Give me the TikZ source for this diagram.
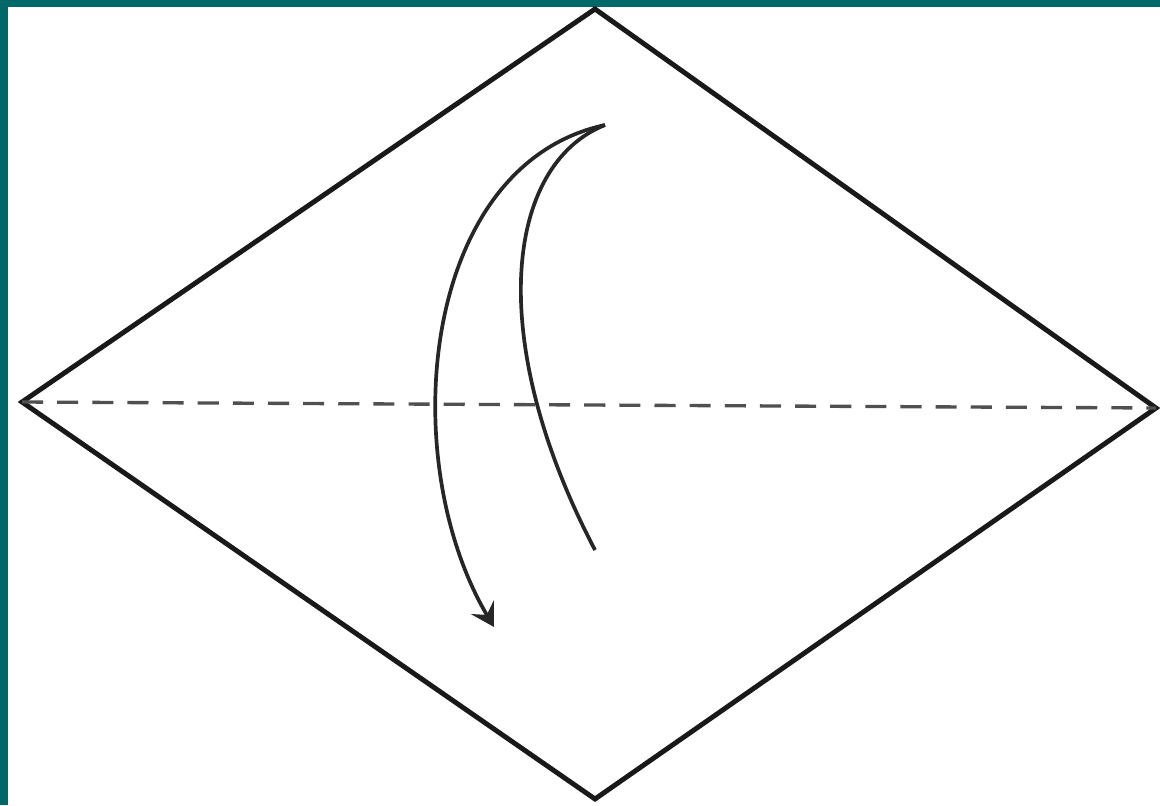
\documentclass[tikz,border=0pt]{standalone}
\usepackage{tikz}
\usetikzlibrary{arrows.meta}
\definecolor{frame}{RGB}{0,104,104}
\definecolor{creaseline}{RGB}{80,80,80}

\begin{document}
\begin{tikzpicture}[
  x=0.02cm, y=-0.02cm,
  edge/.style={line width=2.8pt, line join=miter, black!90},
  crease/.style={line width=1.9pt, creaseline, dash pattern=on 12pt off 8pt},
  fold/.style={line width=2.1pt, black!85},
  a/.style={-{Stealth[length=13pt, width=15pt, inset=5pt]}, fold}
]

% ---- page and frame ----
\fill[white] (0,0) rectangle (1160,805);
\fill[frame] (0,0) rectangle (8,805);
\fill[frame] (0,0) rectangle (1160,7);
\useasboundingbox (0,0) rectangle (1160,805);

% ---- corners of the square ----
\coordinate (top) at (595,9);
\coordinate (lft) at (22,402);
\coordinate (rgt) at (1156,408);
\coordinate (bot) at (595,799);

% ---- paper outline ----
\draw[edge] (top) -- (rgt) -- (bot) -- (lft) -- cycle;

% ---- valley fold line ----
\draw[crease] (lft) -- (rgt);

% ---- fold arrow ----
\coordinate (start) at (605,125);
\coordinate (back) at (595,550);
\coordinate (tip) at (494,627);
\draw[fold] (start) .. controls (505,165) and (485,340) .. (back);
\draw[a] (start) .. controls (420,165) and (395,460) .. (tip);

\end{tikzpicture}
\end{document}
